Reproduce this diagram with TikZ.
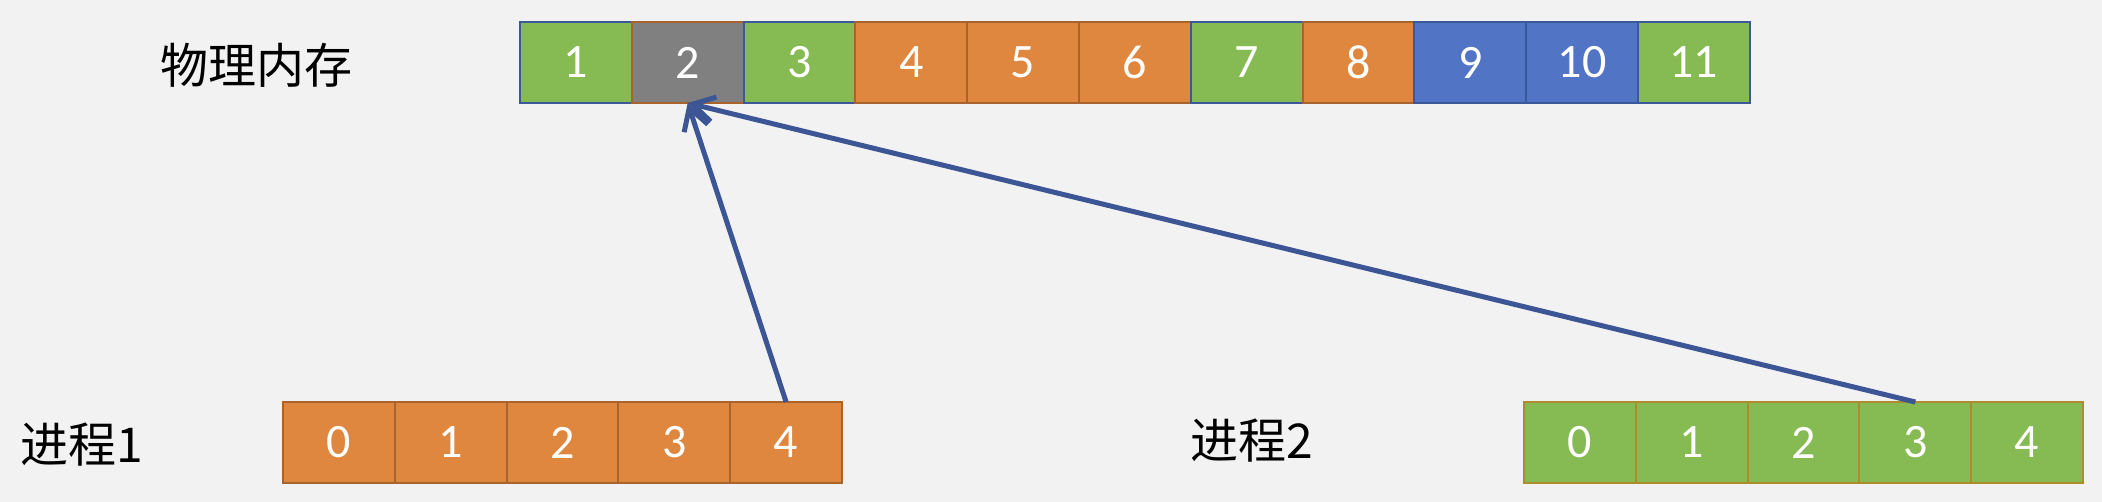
\documentclass[tikz,border=0pt]{standalone}
\usepackage{fontspec}
\setmainfont{Carlito}
\newfontfamily\cjk{Noto Sans CJK SC}
\usetikzlibrary{positioning,arrows.meta}
\definecolor{bggray}{HTML}{F2F2F2}
\definecolor{cellgreen}{HTML}{86BA52}
\definecolor{cellorange}{HTML}{E0873F}
\definecolor{cellblue}{HTML}{5274C5}
\definecolor{cellgray}{HTML}{808080}
\definecolor{lineblue}{HTML}{3B5898}
\definecolor{linebrown}{HTML}{A9642E}
\definecolor{linegold}{HTML}{AE8C2C}
\definecolor{arrowblue}{HTML}{3C5594}
\tikzset {>={Straight Barb[length=3.8mm,width=4.4mm]}}
\tikzset{
  cell/.style={draw, outer sep=0pt, inner sep=0pt,
    minimum width=55.9pt, minimum height=40.5pt, line width=1pt,
    text=white, font=\fontsize{24}{24}\selectfont},
  memg/.style={cell, fill=cellgreen, draw=lineblue},
  memo/.style={cell, fill=cellorange, draw=linebrown},
  memb/.style={cell, fill=cellblue, draw=lineblue},
  memgray/.style={cell, fill=cellgray, draw=linebrown},
  proco/.style={cell, fill=cellorange, draw=linebrown},
  procg/.style={cell, fill=cellgreen, draw=linegold},
  label/.style={font=\cjk\fontsize{24}{24}\selectfont},
  maparrow/.style={->, draw=arrowblue, line width=2.5pt}
}

\begin{document}
\begin{tikzpicture}[x=0.5pt,y=-0.5pt]
\useasboundingbox[fill=bggray] (0,0) rectangle (2102,502);

% physical memory
\node[label] (mem) at (256,65) {物理内存};
\node[memg] (m1) at (575.9,62.5) {1};
\node[memgray,right=0pt of m1] (m2) {2};
\node[memg,right=0pt of m2] (m3) {3};
\node[memo,right=0pt of m3] (m4) {4};
\node[memo,right=0pt of m4] (m5) {5};
\node[memo,right=0pt of m5] (m6) {6};
\node[memg,right=0pt of m6] (m7) {7};
\node[memo,right=0pt of m7] (m8) {8};
\node[memb,right=0pt of m8] (m9) {9};
\node[memb,right=0pt of m9] (m10) {10};
\node[memg,right=0pt of m10] (m11) {11};

% process 1
\node[label] (p1) at (82,445) {进程1};
\node[proco] (pa0) at (338.9,442.5) {0};
\node[proco,right=0pt of pa0] (pa1) {1};
\node[proco,right=0pt of pa1] (pa2) {2};
\node[proco,right=0pt of pa2] (pa3) {3};
\node[proco,right=0pt of pa3] (pa4) {4};

% process 2
\node[label] (p2) at (1252,441) {进程2};
\node[procg] (pb0) at (1579.9,442.5) {0};
\node[procg,right=0pt of pb0] (pb1) {1};
\node[procg,right=0pt of pb1] (pb2) {2};
\node[procg,right=0pt of pb2] (pb3) {3};
\node[procg,right=0pt of pb3] (pb4) {4};

% mappings
\draw[maparrow] (pa4.north) -- (m2.south);
\draw[maparrow] (pb3.north) -- (m2.south);

\end{tikzpicture}
\end{document}
